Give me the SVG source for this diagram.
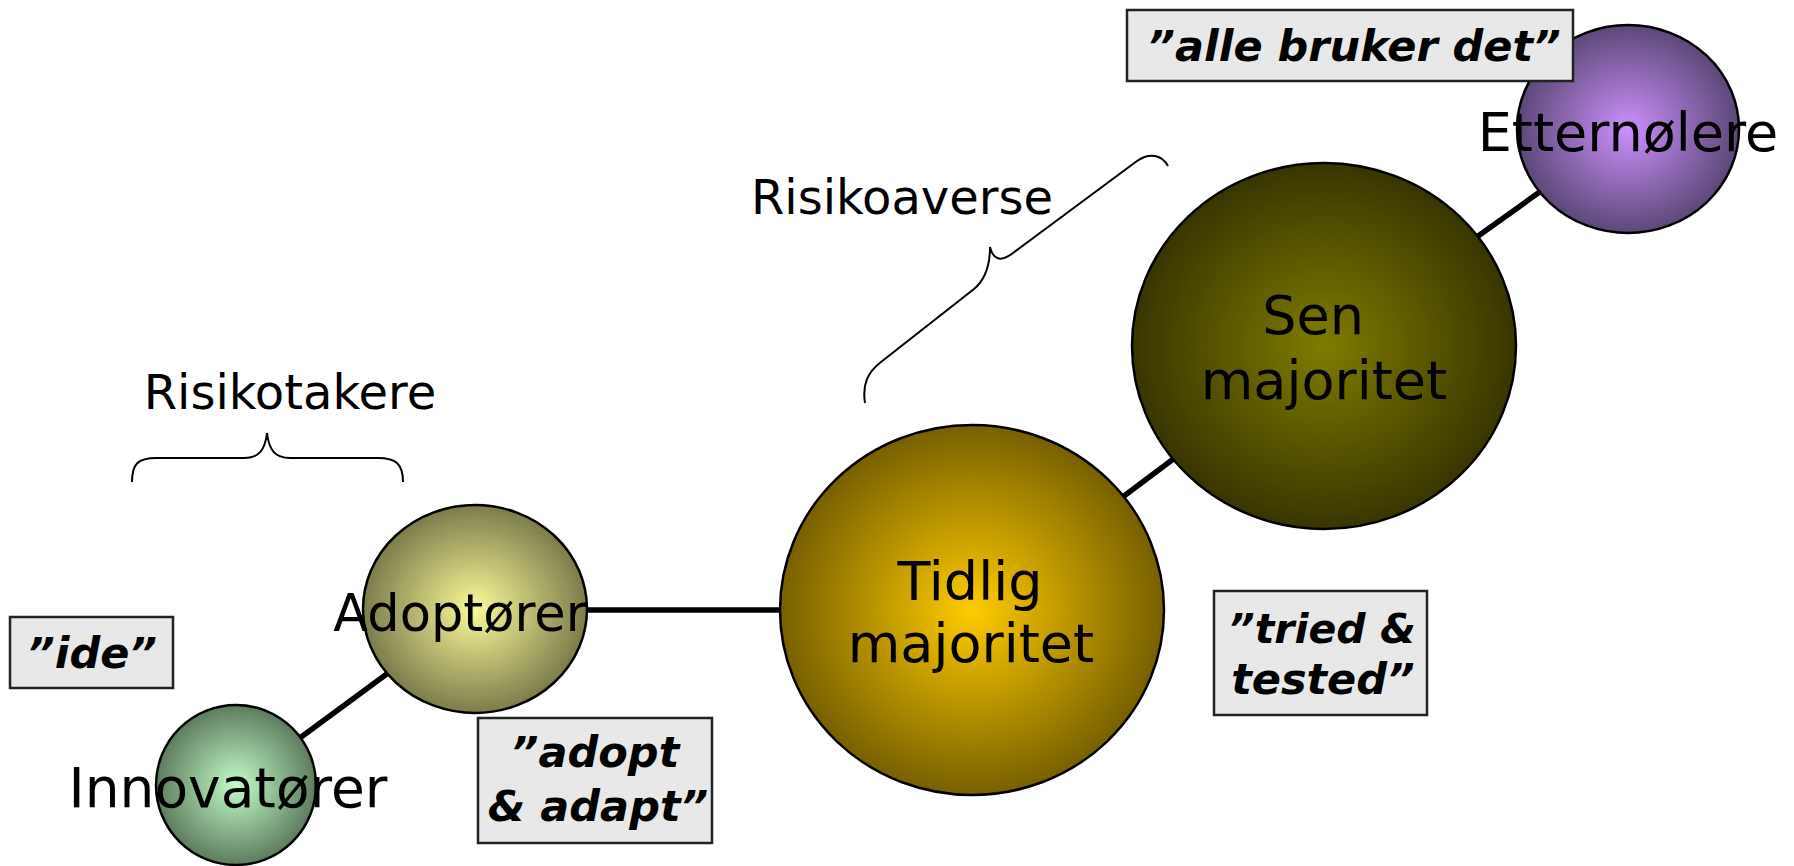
<svg xmlns="http://www.w3.org/2000/svg" width="1794" height="866" viewBox="0 0 1794 866">
<style>
.node { stroke: #000; stroke-width: 2.5; }
.lbl { font-family: "DejaVu Sans", Verdana, sans-serif; font-size: 54px; fill: #000; text-anchor: middle; }
.cap { font-family: "DejaVu Sans", Verdana, sans-serif; font-size: 48px; fill: #000; text-anchor: middle; }
.box { fill: #e8e8e8; stroke: #222; stroke-width: 2.5; }
.q { font-family: "DejaVu Sans", Verdana, sans-serif; font-size: 43px; font-weight: bold; font-style: italic; fill: #000; text-anchor: middle; }
.conn { stroke: #000; stroke-width: 5.5; fill: none; }
.brace { stroke: #000; stroke-width: 2; fill: none; }
</style>
<defs>
<radialGradient id="gInn" cx="0.5" cy="0.5" r="0.5"><stop offset="0" stop-color="#c2fcc8"/><stop offset="1" stop-color="#5e7c5e"/></radialGradient>
<radialGradient id="gAdo" cx="0.5" cy="0.5" r="0.5"><stop offset="0" stop-color="#fafa98"/><stop offset="1" stop-color="#7c7c4c"/></radialGradient>
<radialGradient id="gTid" cx="0.5" cy="0.5" r="0.5"><stop offset="0" stop-color="#ffcc00"/><stop offset="1" stop-color="#776000"/></radialGradient>
<radialGradient id="gSen" cx="0.5" cy="0.5" r="0.5"><stop offset="0" stop-color="#7f7c00"/><stop offset="1" stop-color="#383600"/></radialGradient>
<radialGradient id="gEtt" cx="0.5" cy="0.5" r="0.5"><stop offset="0" stop-color="#cc90fc"/><stop offset="1" stop-color="#5c4878"/></radialGradient>
</defs>
<g id="connectors">
<line class="conn" x1="236" y1="785" x2="475" y2="609"/>
<line class="conn" x1="475" y1="610" x2="972" y2="610"/>
<line class="conn" x1="972" y1="610" x2="1324" y2="346"/>
<line class="conn" x1="1324" y1="346" x2="1628" y2="129"/>
</g>
<g id="braces">
<path class="brace" d="M132,482 C132,464 138,458 156,458 L244,458 C259,458 265,450 267,433 C269,450 275,458 290,458 L378,458 C396,458 403,464 403,482"/>
<path class="brace" d="M865,403 C862,384 868,372 881,362 L974,289 C986,279 990,263 990,247 C993,259 1000,263 1013,253 L1137,161 C1150,152 1162,155 1168,166"/>
<text class="cap" x="290" y="409">Risikotakere</text>
<text class="cap" x="902" y="214">Risikoaverse</text>
</g>
<g id="innovatorer">
<ellipse class="node" cx="236" cy="785" rx="80" ry="80" fill="url(#gInn)"/>
<text class="lbl" x="228" y="807" style="font-size:55px">Innovatører</text>
</g>
<g id="adoptorer">
<ellipse class="node" cx="475" cy="609" rx="112" ry="104" fill="url(#gAdo)"/>
<text class="lbl" x="460" y="631" style="font-size:51px">Adoptører</text>
</g>
<g id="tidlig">
<ellipse class="node" cx="972" cy="610" rx="192" ry="185" fill="url(#gTid)"/>
<text class="lbl" x="970" y="600">Tidlig</text>
<text class="lbl" x="971" y="662">majoritet</text>
</g>
<g id="sen">
<ellipse class="node" cx="1324" cy="346" rx="192" ry="183" fill="url(#gSen)"/>
<text class="lbl" x="1313" y="334">Sen</text>
<text class="lbl" x="1324" y="399">majoritet</text>
</g>
<g id="etternolere">
<ellipse class="node" cx="1628" cy="129" rx="111" ry="104" fill="url(#gEtt)"/>
<text class="lbl" x="1628" y="151">Etternølere</text>
</g>
<g id="box-ide">
<rect class="box" x="10" y="617" width="163" height="71"/>
<text class="q" x="92" y="668">”ide”</text>
</g>
<g id="box-adopt">
<rect class="box" x="478" y="718" width="234" height="125"/>
<text class="q" x="595" y="767">”adopt</text>
<text class="q" x="598" y="821">&amp; adapt”</text>
</g>
<g id="box-tried">
<rect class="box" x="1214" y="591" width="213" height="124"/>
<text class="q" x="1322" y="643" style="font-size:41px">”tried &amp;</text>
<text class="q" x="1323" y="694">tested”</text>
</g>
<g id="box-alle">
<rect class="box" x="1127" y="10" width="446" height="71"/>
<text class="q" x="1354" y="61">”alle bruker det”</text>
</g>
</svg>
